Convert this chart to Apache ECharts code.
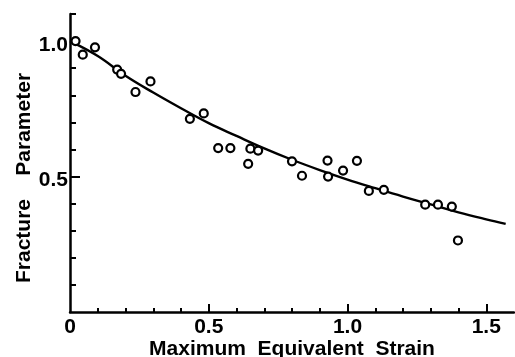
<!DOCTYPE html>
<html>
<head>
<meta charset="utf-8">
<script src="https://cdn.jsdelivr.net/npm/echarts@6/dist/echarts.min.js"></script>
<style>
  html, body { margin: 0; padding: 0; background: #fff; }
  #chart { width: 515px; height: 357px; }
</style>
</head>
<body>
<div id="chart"></div>
<script>
// measured points (open circles)
const strainPts = [0.02, 0.046, 0.09, 0.17, 0.184, 0.236, 0.29, 0.432, 0.482, 0.534, 0.578, 0.642, 0.65, 0.678,
  0.80, 0.836, 0.928, 0.93, 0.984, 1.034, 1.077, 1.131, 1.28, 1.326, 1.376, 1.398];
const fracturePts = [1.0, 0.95, 0.977, 0.895, 0.879, 0.812, 0.851, 0.713, 0.733, 0.605, 0.605, 0.547, 0.603, 0.596,
  0.556, 0.503, 0.559, 0.50, 0.522, 0.558, 0.447, 0.451, 0.396, 0.396, 0.389, 0.264];

// fitted curve
const curveX = [0, 0.1, 0.2, 0.3, 0.4, 0.5, 0.6, 0.7, 0.8, 0.9, 1.0, 1.1, 1.2, 1.3, 1.4, 1.5, 1.57];
const curveY = [1.0, 0.945, 0.872, 0.81, 0.752, 0.697, 0.65, 0.604, 0.562, 0.524, 0.489, 0.457, 0.426, 0.397, 0.368, 0.342, 0.325];

// ticks
const xLabels = [0, 0.5, 1.0, 1.5];
const xMajorTicks = [0.5, 1.0, 1.5];
const xMinorTicks = [0.1, 0.2, 0.3, 0.4, 0.6, 0.7, 0.8, 0.9, 1.1, 1.2, 1.3, 1.4];
const yLabels = [0.5, 1.0];
const yMajorTicks = [0.5, 1.0];
const yMinorTicks = [0.1, 0.2, 0.3, 0.4, 0.6, 0.7, 0.8, 0.9, 1.1];

const FONT = '"Liberation Sans", Arial, sans-serif';
const INK = '#000';

const chart = echarts.init(document.getElementById('chart'), null, { renderer: 'canvas' });

// two identical grids: the second one only carries the short minor ticks
const gridBox = { left: 70, right: 1, top: 14, bottom: 45, outerBoundsMode: 'none', containLabel: false };

chart.setOption({
  animation: false,
  backgroundColor: '#fff',
  grid: [
    Object.assign({}, gridBox),
    Object.assign({}, gridBox)
  ],
  xAxis: [
    {
      type: 'value',
      gridIndex: 0,
      min: 0,
      max: 1.6,
      position: 'bottom',
      name: 'Maximum  Equivalent  Strain',
      nameLocation: 'middle',
      nameMoveOverlap: false,
      nameGap: 27,
      nameTextStyle: { fontFamily: FONT, fontWeight: 'bold', fontSize: 21, color: INK },
      axisLine: { show: true, lineStyle: { color: INK, width: 2.5 } },
      axisTick: { show: true, inside: true, length: 8, customValues: xMajorTicks, lineStyle: { color: INK, width: 2 } },
      axisLabel: {
        show: true,
        customValues: xLabels,
        margin: 5,
        fontFamily: FONT, fontWeight: 'bold', fontSize: 21, color: INK,
        formatter: v => (v === 0 ? '0' : v.toFixed(1))
      },
      splitLine: { show: false }
    },
    {
      type: 'value',
      gridIndex: 1,
      min: 0,
      max: 1.6,
      position: 'bottom',
      axisLine: { show: false },
      axisTick: { show: true, inside: true, length: 4, customValues: xMinorTicks, lineStyle: { color: INK, width: 2 } },
      axisLabel: { show: false },
      splitLine: { show: false }
    }
  ],
  yAxis: [
    {
      type: 'value',
      gridIndex: 0,
      min: 0,
      max: 1.1,
      position: 'left',
      name: 'Fracture    Parameter',
      nameLocation: 'middle',
      nameMoveOverlap: false,
      nameGap: 35,
      nameRotate: 90,
      nameTextStyle: { fontFamily: FONT, fontWeight: 'bold', fontSize: 21, color: INK, padding: [0, 30, 0, 0] },
      axisLine: { show: true, lineStyle: { color: INK, width: 2.5 } },
      axisTick: { show: true, inside: true, length: 10, customValues: yMajorTicks, lineStyle: { color: INK, width: 2 } },
      axisLabel: {
        show: true,
        customValues: yLabels,
        margin: 2,
        formatter: v => '{v|' + v.toFixed(1) + '}',
        rich: {
          v: { fontFamily: FONT, fontWeight: 'bold', fontSize: 21, color: INK, padding: [8, 0, 0, 0] }
        }
      },
      splitLine: { show: false }
    },
    {
      type: 'value',
      gridIndex: 1,
      min: 0,
      max: 1.1,
      position: 'left',
      axisLine: { show: false },
      axisTick: { show: true, inside: true, length: 6, customValues: yMinorTicks, lineStyle: { color: INK, width: 2 } },
      axisLabel: { show: false },
      splitLine: { show: false }
    }
  ],
  series: [
    {
      name: 'fit',
      type: 'line',
      xAxisIndex: 0,
      yAxisIndex: 0,
      smooth: 0.4,
      symbol: 'none',
      lineStyle: { color: INK, width: 2.4 },
      data: curveX.map((x, i) => [x, curveY[i]]),
      z: 2
    },
    {
      name: 'data',
      type: 'scatter',
      xAxisIndex: 0,
      yAxisIndex: 0,
      symbol: 'circle',
      symbolSize: 8,
      itemStyle: { color: '#fff', borderColor: INK, borderWidth: 2.2, opacity: 1 },
      data: strainPts.map((x, i) => [x, fracturePts[i]]),
      z: 3
    }
  ]
});
</script>
</body>
</html>
